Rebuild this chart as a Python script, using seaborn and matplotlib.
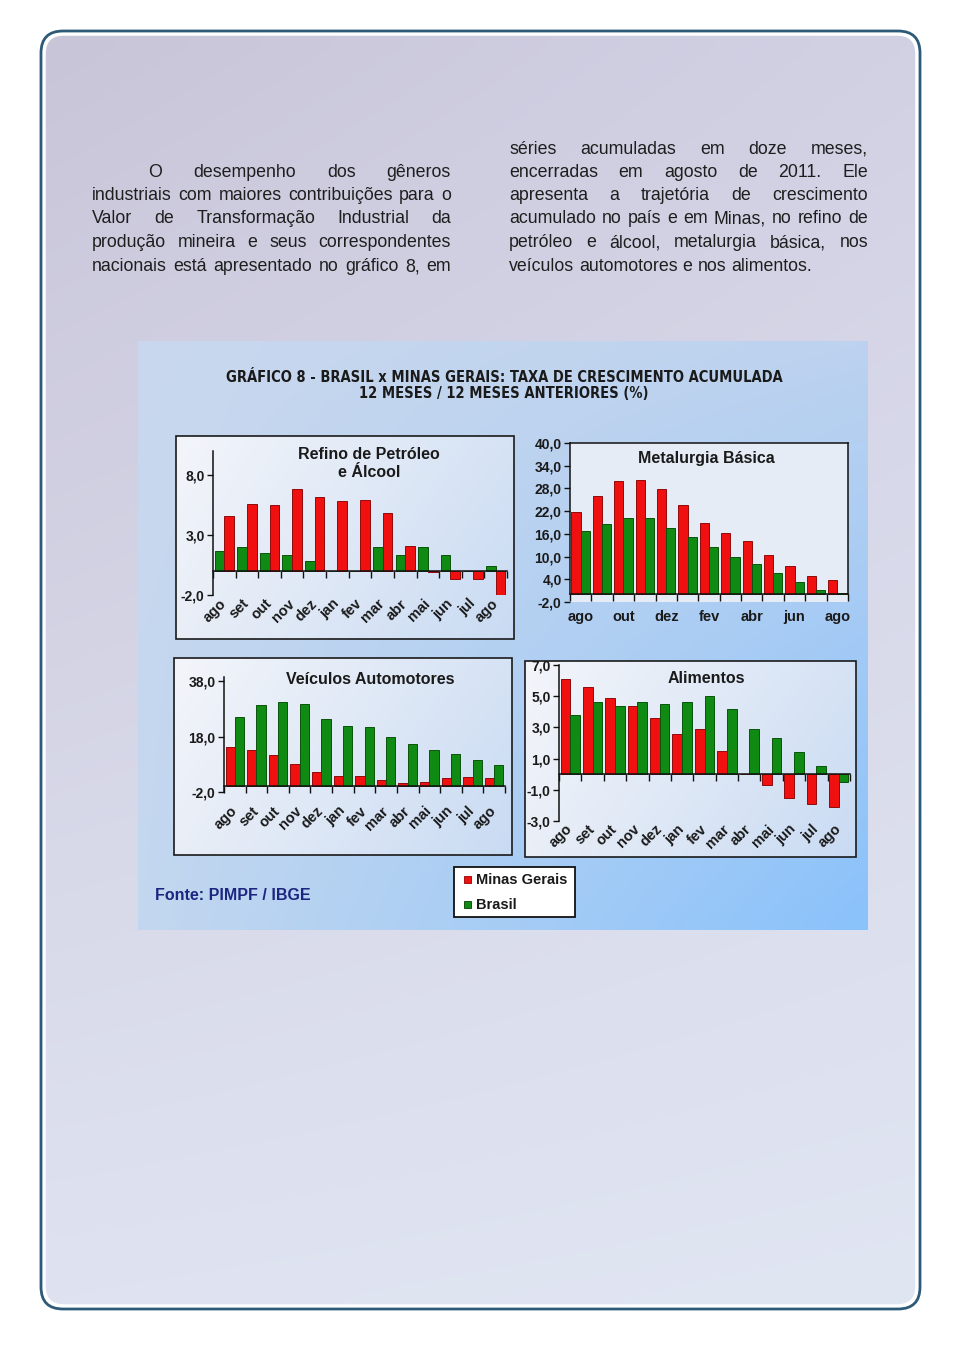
import numpy as np
import pandas as pd
import matplotlib
matplotlib.use('Agg')
import matplotlib.pyplot as plt
import seaborn as sns
from matplotlib import font_manager
from matplotlib.patches import FancyBboxPatch, Rectangle
from matplotlib.colors import to_rgb
from matplotlib.ticker import FuncFormatter, FixedLocator

# dados (taxa acumulada 12 meses, %)
meses = ['ago', 'set', 'out', 'nov', 'dez', 'jan', 'fev', 'mar', 'abr', 'mai', 'jun', 'jul', 'ago']

refino_mg = [4.6, 5.6, 5.5, 6.8, 6.2, 5.8, 5.9, 4.8, 2.1, -0.1, -0.7, -0.7, -2.0]
refino_br = [1.7, 2.0, 1.5, 1.3, 0.8, 0.0, 0.0, 2.0, 1.3, 2.0, 1.3, 0.0, 0.4]

metal_mg = [21.8, 25.9, 29.9, 30.3, 27.8, 23.7, 18.9, 16.2, 14.1, 10.3, 7.6, 5.0, 3.9]
metal_br = [16.7, 18.7, 20.1, 20.1, 17.6, 15.1, 12.4, 9.9, 8.0, 5.7, 3.2, 1.3, 0.3]

veic_mg = [14.2, 13.3, 11.2, 8.1, 5.3, 3.9, 3.9, 2.2, 1.3, 1.7, 2.9, 3.5, 3.0]
veic_br = [25.1, 29.3, 30.6, 29.8, 24.5, 21.9, 21.4, 17.8, 15.3, 13.0, 11.8, 9.6, 7.7]

alim_mg = [6.1, 5.6, 4.9, 4.4, 3.6, 2.6, 2.9, 1.5, 0.0, -0.7, -1.5, -1.9, -2.1]
alim_br = [3.8, 4.6, 4.4, 4.6, 4.5, 4.6, 5.0, 4.2, 2.9, 2.3, 1.4, 0.5, -0.5]

texto_esq = [
    'O desempenho dos gêneros',
    'industriais com maiores contribuições para o',
    'Valor de Transformação Industrial da',
    'produção mineira e seus correspondentes',
    'nacionais está apresentado no gráfico 8, em',
]
texto_dir = [
    'séries acumuladas em doze meses,',
    'encerradas em agosto de 2011. Ele',
    'apresenta a trajetória de crescimento',
    'acumulado no país e em Minas, no refino de',
    'petróleo e álcool, metalurgia básica, nos',
    'veículos automotores e nos alimentos.',
]

VERMELHO = '#f01010'
VERDE = '#0f8a12'
cores = {'Minas Gerais': VERMELHO, 'Brasil': VERDE}

sns.set_theme(style='white')
plt.rcParams['font.family'] = ['Liberation Sans', 'DejaVu Sans']

# fonte estreita para o título, se houver
fontes = font_manager.fontManager.ttflist
nomes = {f.name for f in fontes}
if 'Liberation Sans Narrow' in nomes:
    tit_kw = dict(family=['Liberation Sans Narrow', 'DejaVu Sans'], fontsize=11.5)
elif any(f.name == 'DejaVu Sans' and f.stretch == 'condensed' for f in fontes):
    tit_kw = dict(family=['DejaVu Sans'], fontstretch='condensed', fontsize=10.5)
else:
    tit_kw = dict(fontsize=9.6)

W, H = 960, 1350
fig = plt.figure(figsize=(9.6, 13.5), dpi=100)
fig.patch.set_facecolor('white')

# eixo de fundo em pixels (origem no topo)
bg = fig.add_axes([0, 0, 1, 1])
bg.axis('off')


def gradiente(x0, y0, x1, y1, tl, tr, bl, br, z, clip=None):
    n = 64
    u = np.linspace(0, 1, n)
    U, V = np.meshgrid(u, u)
    U = U[..., None]
    V = V[..., None]
    tl, tr, bl, br = [np.array(to_rgb(c)) for c in (tl, tr, bl, br)]
    img = (1 - U) * (1 - V) * tl + U * (1 - V) * tr + (1 - U) * V * bl + U * V * br
    im = bg.imshow(img, extent=(x0, x1, y1, y0), aspect='auto',
                   interpolation='bicubic', zorder=z)
    if clip is not None:
        im.set_clip_path(clip)
    return im


# página com borda arredondada
pagina = FancyBboxPatch((44, 34), 873, 1272, boxstyle='round,pad=0,rounding_size=20',
                        facecolor='none', edgecolor='white', lw=2.5, zorder=3)
bg.add_patch(pagina)
gradiente(44, 34, 917, 1306, '#c9c5d9', '#d2d1e4', '#dfe3f1', '#e1e6f3', 0, clip=pagina)
borda = FancyBboxPatch((41, 31), 879, 1278, boxstyle='round,pad=0,rounding_size=22',
                       facecolor='none', edgecolor='#2d5a78', lw=2, zorder=3)
bg.add_patch(borda)

# painel azul do gráfico
gradiente(138, 341, 868, 930, '#c9d8ee', '#bcd2ef', '#c3d7ef', '#8ac2fb', 1)

# caixas dos painéis
for (x0, y0, x1, y1) in [(176, 436, 514, 639), (174, 658, 512, 855), (525, 661, 856, 857)]:
    gradiente(x0, y0, x1, y1, '#f3f5fa', '#d6e3f5', '#e9eef7', '#c9dbf3', 2)
    bg.add_patch(Rectangle((x0, y0), x1 - x0, y1 - y0, facecolor='none',
                           edgecolor='#1a1a1a', lw=1.2, zorder=3))

# legenda
bg.add_patch(Rectangle((454, 867), 121, 50, facecolor='white', edgecolor='#111111', lw=1.3, zorder=3))
bg.add_patch(Rectangle((464, 876), 7, 7, facecolor=VERMELHO, edgecolor='#900000', lw=0.6, zorder=4))
bg.add_patch(Rectangle((464, 901), 7, 7, facecolor=VERDE, edgecolor='#004000', lw=0.6, zorder=4))
bg.text(476, 880, 'Minas Gerais', fontsize=10.5, fontweight='bold', color='#1a1a1a',
        va='center', zorder=5)
bg.text(476, 905, 'Brasil', fontsize=10.5, fontweight='bold', color='#1a1a1a',
        va='center', zorder=5)

bg.text(155, 895, 'Fonte: PIMPF / IBGE', fontsize=11.5, fontweight='bold', color='#1c2580',
        va='center', zorder=5)

# título
bg.text(504, 377, 'GRÁFICO 8 - BRASIL x MINAS GERAIS: TAXA DE CRESCIMENTO ACUMULADA',
        fontweight='bold', color='#1a1a1a', ha='center', va='center', zorder=5, **tit_kw)
bg.text(504, 393, '12 MESES / 12 MESES ANTERIORES (%)',
        fontweight='bold', color='#1a1a1a', ha='center', va='center', zorder=5, **tit_kw)

# texto justificado em duas colunas
renderer = fig.canvas.get_renderer()
FS = 12.8


def linha(frase, x0, x1, y, justificar=True):
    palavras = frase.split()
    ts = [bg.text(0, y, p, fontsize=FS, color='#1e1e1e', va='baseline', zorder=5) for p in palavras]
    larg = [t.get_window_extent(renderer).width for t in ts]
    if justificar and len(ts) > 1:
        gap = (x1 - x0 - sum(larg)) / (len(ts) - 1)
    else:
        gap = FS * 0.28 * 100 / 72
    x = x0
    for t, w in zip(ts, larg):
        t.set_x(x)
        x += w + gap


y_esq = [171, 194, 217, 241, 265]
for i, (frase, y) in enumerate(zip(texto_esq, y_esq)):
    linha(frase, 148 if i == 0 else 92, 451, y + 6)

y_dir = [148, 171, 194, 217, 241, 265]
for i, (frase, y) in enumerate(zip(texto_dir, y_dir)):
    linha(frase, 509, 868, y + 6, justificar=(i < len(texto_dir) - 1))

bg.set_xlim(0, W)
bg.set_ylim(H, 0)


def eixo(x0, y0, x1, y1):
    return fig.add_axes([x0 / W, 1 - y1 / H, (x1 - x0) / W, (y1 - y0) / H])


fmt = FuncFormatter(lambda v, p: f'{v:.1f}'.replace('.', ','))


def painel(ax, mg, br, ordem, ylim, yticks, titulo, tx, ty, pad, rot=True, caixa=False):
    df = pd.DataFrame({
        'mes': list(range(len(meses))) * 2,
        'valor': mg + br,
        'serie': ['Minas Gerais'] * len(mg) + ['Brasil'] * len(br),
    })
    sns.barplot(data=df, x='mes', y='valor', hue='serie', hue_order=ordem,
                palette=cores, width=0.86, ax=ax, legend=False, saturation=1)
    for p in ax.patches:
        c = np.array(p.get_facecolor()[:3])
        p.set_edgecolor(c * 0.6)
        p.set_linewidth(0.7)
    ax.set_facecolor('#e5ecf6' if caixa else 'none')
    ax.set_xlim(-0.5, len(meses) - 0.5)
    ax.set_ylim(*ylim)
    ax.set_xlabel('')
    ax.set_ylabel('')
    ax.yaxis.set_major_locator(FixedLocator(yticks))
    ax.yaxis.set_major_formatter(fmt)
    ax.tick_params(axis='y', direction='out', length=4, width=1, color='#111111',
                   labelsize=10, pad=2, left=True)
    for lab in ax.get_yticklabels():
        lab.set_fontweight('bold')
        lab.set_color('#1a1a1a')
    ax.spines['bottom'].set_position(('data', 0))
    for s in ax.spines.values():
        s.set_color('#111111')
        s.set_linewidth(1.1)
    if caixa:
        for s in ['left', 'right']:
            ax.spines[s].set_bounds(0, ylim[1])
    else:
        ax.spines['top'].set_visible(False)
        ax.spines['right'].set_visible(False)
    ax.set_xticks(np.arange(-0.5, len(meses), 1), minor=True)
    ax.tick_params(axis='x', which='minor', direction='out', length=5, width=1,
                   color='#111111', bottom=True)
    if rot:
        ax.set_xticks(range(len(meses)))
        ax.set_xticklabels(meses, rotation=45, ha='right', va='center',
                           rotation_mode='anchor', fontweight='bold', color='#1a1a1a')
    else:
        ax.set_xticks(range(0, len(meses), 2))
        ax.set_xticklabels(meses[::2], fontweight='bold', color='#1a1a1a')
    ax.tick_params(axis='x', which='major', length=0, labelsize=10.5, pad=pad)
    ax.text(tx, ty, titulo, transform=ax.transAxes, ha='center', va='top',
            fontsize=11.5, fontweight='bold', color='#1a1a1a', linespacing=1.25)


ax1 = eixo(213, 451, 507, 595)
painel(ax1, refino_mg, refino_br, ['Brasil', 'Minas Gerais'], (-2, 10), [-2, 3, 8],
       'Refino de Petróleo\ne Álcool', 0.53, 1.025, pad=22)

ax2 = eixo(570, 443, 848, 602)
painel(ax2, metal_mg, metal_br, ['Minas Gerais', 'Brasil'], (-2, 40),
       [-2, 4, 10, 16, 22, 28, 34, 40], 'Metalurgia Básica', 0.49, 0.95, pad=11,
       rot=False, caixa=True)

ax3 = eixo(224, 677, 505, 792)
painel(ax3, veic_mg, veic_br, ['Minas Gerais', 'Brasil'], (-2, 39.5), [-2, 18, 38],
       'Veículos Automotores', 0.52, 1.04, pad=16)

ax4 = eixo(559, 665, 850, 821)
painel(ax4, alim_mg, alim_br, ['Minas Gerais', 'Brasil'], (-3, 7), [-3, -1, 1, 3, 5, 7],
       'Alimentos', 0.505, 0.96, pad=38)

fig.savefig('out.png', dpi=100)
